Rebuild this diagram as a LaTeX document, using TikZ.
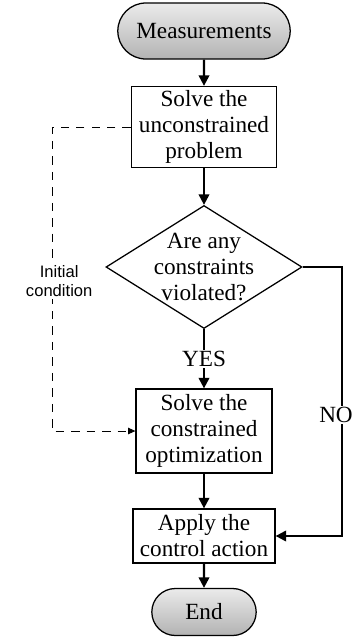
\documentclass[tikz,border=0pt]{standalone}
\usepackage{fontspec}
\setmainfont{Liberation Serif}
\newfontfamily\labelsans{Liberation Sans}
\usetikzlibrary{arrows.meta,positioning,calc,shapes.geometric,shapes.misc}

\begin{document}
\begin{tikzpicture}[
  process/.style={draw,line width=.9pt,align=center,inner sep=2pt,
    font=\fontsize{16.5}{18.5}\selectfont},
  terminal/.style={process,rounded rectangle,
    top color=black!8,bottom color=black!30},
  decision/.style={process,diamond,aspect=1.6,inner sep=-7pt},
  flow/.style={-{Triangle[length=2.6mm,width=2.6mm]},line width=1.5pt},
  hint/.style={-{Triangle[length=1.8mm,width=1.6mm]},dashed,
    dash pattern=on 6pt off 5pt,line width=.6pt},
  tag/.style={fill=white,inner sep=1pt,align=center,
    font=\fontsize{16.5}{18.5}\selectfont},
  sidetag/.style={tag,font=\labelsans\fontsize{11.8}{14}\selectfont}
]
\useasboundingbox (0,-15.925) rectangle (8.825,0);

% Main column of the flow chart.
\node[terminal,minimum width=4.45cm,minimum height=1.4cm]
  (measure) at (5.1,-.775) {Measurements};
\node[process,minimum width=3.625cm,minimum height=2.025cm]
  (solvefree) at (5.1,-3.175) {Solve the\\unconstrained\\problem};
\node[decision,minimum width=4.9cm,minimum height=3.075cm]
  (check) at (5.1,-6.675) {Are any\\constraints\\violated?};
\node[process,minimum width=3.4cm,minimum height=2.1cm]
  (solvecon) at (5.1,-10.775) {Solve the\\constrained\\optimization};
\node[process,minimum width=3.55cm,minimum height=1.35cm]
  (apply) at (5.1,-13.4) {Apply the\\control action};
\node[terminal,minimum width=2.75cm,minimum height=1.175cm]
  (finish) at (5.1,-15.3) {End};

\draw[flow] (measure) -- (solvefree);
\draw[flow] (solvefree) -- (check);
\draw[flow] (check) -- node[tag] {YES} (solvecon);
\draw[flow] (solvecon) -- (apply);
\draw[flow] (apply) -- (finish);

% The NO branch skips the optimization.
\coordinate (noturn) at (8.55,-6.675);
\draw[flow] (check.east) -- (noturn) |- (apply.east);
\node[tag] (nolabel) at (8.4,-10.375) {NO};

% Warm start for the constrained problem.
\coordinate (initturn) at (1.3,-3.175);
\draw[hint] (solvefree.west) -- (initturn) |- (solvecon.west);
\node[sidetag] (initlabel) at (1.48,-7.03) {Initial\\condition};
\end{tikzpicture}
\end{document}
